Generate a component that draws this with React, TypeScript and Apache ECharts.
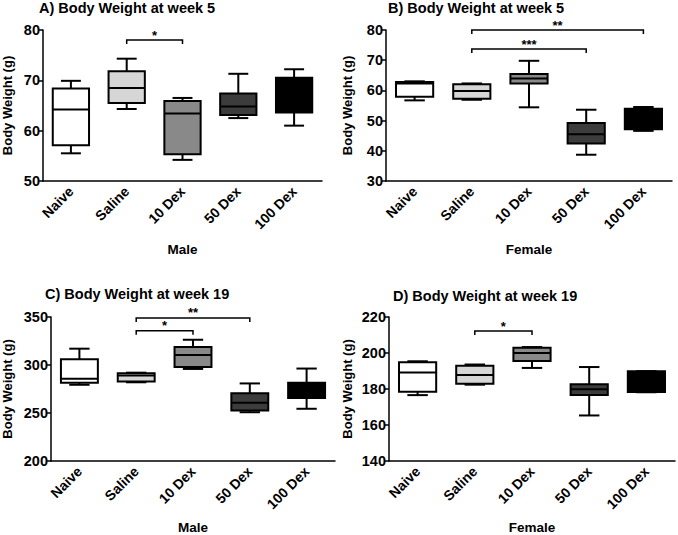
import React, { useEffect, useRef } from "react";
import * as echarts from "echarts";

const categories = ["Naive", "Saline", "10 Dex", "50 Dex", "100 Dex"];
const boxFills = ["#ffffff", "#d6d6d6", "#898989", "#3c3c3c", "#000000"];

// [min, Q1, median, Q3, max]
const maleWeek5 = [
  [55.5, 57.1, 64.2, 68.4, 69.9],
  [64.3, 65.5, 68.5, 71.8, 74.3],
  [54.2, 55.3, 63.4, 65.9, 66.5],
  [62.5, 63.1, 64.8, 67.4, 71.3],
  [61.0, 63.6, 66.5, 70.5, 72.2],
];
const femaleWeek5 = [
  [56.7, 57.9, 62.3, 62.8, 63.0],
  [56.9, 57.2, 59.8, 62.0, 62.3],
  [54.4, 62.3, 63.9, 65.4, 69.8],
  [38.7, 42.4, 45.5, 49.2, 53.6],
  [46.6, 47.1, 50.0, 53.9, 54.5],
];
const maleWeek19 = [
  [279.4, 281.4, 285.7, 306.1, 317.0],
  [282.0, 282.7, 289.0, 291.3, 292.0],
  [295.9, 297.9, 310.4, 318.7, 326.3],
  [250.8, 252.7, 260.7, 270.5, 280.8],
  [254.4, 265.6, 272.0, 281.4, 296.3],
];
const femaleWeek19 = [
  [176.6, 178.5, 189.1, 194.9, 195.4],
  [182.4, 182.9, 187.8, 192.9, 193.6],
  [191.7, 195.6, 200.0, 202.9, 203.3],
  [165.3, 176.6, 179.9, 182.7, 192.2],
  [178.2, 178.3, 184.0, 189.8, 189.9],
];

// significance brackets: [fromIndex, toIndex, yValue]
const bracketsA = [[1, 2, 78]];
const bracketLabelsA = ["*"];
const bracketsB = [
  [1, 3, 73.7],
  [1, 4, 80],
];
const bracketLabelsB = ["***", "**"];
const bracketsC = [
  [1, 2, 335.8],
  [1, 3, 349],
];
const bracketLabelsC = ["*", "**"];
const bracketsD = [[1, 2, 212.2]];
const bracketLabelsD = ["*"];

const titles = [
  "A) Body Weight at week 5",
  "B) Body Weight at week 5",
  "C) Body Weight at week 19",
  "D) Body Weight at week 19",
];
const xNames = ["Male", "Female", "Male", "Female"];
const yRanges = [
  [50, 80, 10],
  [30, 80, 10],
  [200, 350, 50],
  [140, 220, 20],
];

const FONT = "'Liberation Sans', Arial, Helvetica, sans-serif";

function boxRenderer(params: any, api: any) {
  const idx = api.value(0);
  const vals = [1, 2, 3, 4, 5].map((i) => api.value(i));
  const xc = api.coord([idx, vals[0]])[0];
  const ys = vals.map((v: number) => api.coord([idx, v])[1]);
  const w = api.size([1, 0])[0] * 0.65;
  const cap = w * 0.55;
  const st = { stroke: "#000", lineWidth: 2, fill: null };
  return {
    type: "group",
    children: [
      { type: "line", shape: { x1: xc, y1: ys[0], x2: xc, y2: ys[1] }, style: st },
      { type: "line", shape: { x1: xc, y1: ys[3], x2: xc, y2: ys[4] }, style: st },
      { type: "line", shape: { x1: xc - cap / 2, y1: ys[0], x2: xc + cap / 2, y2: ys[0] }, style: st },
      { type: "line", shape: { x1: xc - cap / 2, y1: ys[4], x2: xc + cap / 2, y2: ys[4] }, style: st },
      {
        type: "rect",
        shape: { x: xc - w / 2, y: ys[3], width: w, height: ys[1] - ys[3] },
        style: { fill: boxFills[idx], stroke: "#000", lineWidth: 2 },
      },
      { type: "line", shape: { x1: xc - w / 2, y1: ys[2], x2: xc + w / 2, y2: ys[2] }, style: st },
    ],
  };
}

function bracketRenderer(labels: string[]) {
  return (params: any, api: any) => {
    const a = api.value(0);
    const b = api.value(1);
    const v = api.value(2);
    const p1 = api.coord([a, v]);
    const p2 = api.coord([b, v]);
    const drop = 4;
    return {
      type: "group",
      children: [
        {
          type: "polyline",
          shape: {
            points: [
              [p1[0], p1[1] + drop],
              [p1[0], p1[1]],
              [p2[0], p2[1]],
              [p2[0], p2[1] + drop],
            ],
          },
          style: { stroke: "#000", lineWidth: 1.5, fill: null },
        },
        {
          type: "text",
          x: (p1[0] + p2[0]) / 2,
          y: p1[1] - 5,
          style: {
            text: labels[params.dataIndex],
            fill: "#000",
            font: `bold 13px ${FONT}`,
            align: "center",
            verticalAlign: "middle",
          },
        },
      ],
    };
  };
}

export default function App() {
  const ref = useRef<HTMLDivElement>(null);
  useEffect(() => {
    document.body.style.margin = "0";
    if (!ref.current) return;
    const chart = echarts.init(ref.current, null, { renderer: "svg" });

    const grids = [
      { left: 36, top: 30, width: 286, height: 151 },
      { left: 386, top: 30, width: 286, height: 151 },
      { left: 44, top: 317, width: 291, height: 152 },
      { left: 389, top: 317, width: 286, height: 152 },
    ];
    const titlePos = [
      { left: 39, top: 0 },
      { left: 388, top: 0 },
      { left: 45, top: 286 },
      { left: 393, top: 288 },
    ];
    const yGaps = [29, 32, 37, 35];
    const boxData = [maleWeek5, femaleWeek5, maleWeek19, femaleWeek19];
    const brackets = [bracketsA, bracketsB, bracketsC, bracketsD];
    const bracketLabels = [bracketLabelsA, bracketLabelsB, bracketLabelsC, bracketLabelsD];

    const series: any[] = [];
    boxData.forEach((d, i) => {
      series.push({
        type: "custom",
        xAxisIndex: i,
        yAxisIndex: i,
        renderItem: boxRenderer,
        encode: { x: 0, y: [1, 2, 3, 4, 5] },
        data: d.map((row, k) => [k, ...row]),
        z: 2,
      });
      series.push({
        type: "custom",
        xAxisIndex: i,
        yAxisIndex: i,
        renderItem: bracketRenderer(bracketLabels[i]),
        encode: { x: [0, 1], y: 2 },
        data: brackets[i],
        clip: false,
        z: 3,
      });
    });

    chart.setOption({
      animation: false,
      backgroundColor: "#ffffff",
      title: titles.map((t, i) => ({
        text: t,
        left: titlePos[i].left,
        top: titlePos[i].top,
        padding: 0,
        textStyle: { fontFamily: FONT, fontWeight: "bold", fontSize: 14.5, color: "#000" },
      })),
      grid: grids,
      xAxis: grids.map((g, i) => ({
        type: "category",
        gridIndex: i,
        data: categories,
        name: xNames[i],
        nameLocation: "middle",
        nameGap: i < 2 ? 61 : 59,
        nameTextStyle: { fontFamily: FONT, fontWeight: "bold", fontSize: 13.5, color: "#000" },
        axisLine: { lineStyle: { color: "#000", width: 1.5 } },
        axisTick: { show: false },
        axisLabel: {
          rotate: 45,
          margin: 8,
          fontFamily: FONT,
          fontWeight: "bold",
          fontSize: 14,
          color: "#000",
          interval: 0,
        },
        splitLine: { show: false },
      })),
      yAxis: yRanges.map((r, i) => ({
        type: "value",
        gridIndex: i,
        min: r[0],
        max: r[1],
        interval: r[2],
        name: "Body Weight (g)",
        nameLocation: "middle",
        nameGap: yGaps[i],
        nameTextStyle: { fontFamily: FONT, fontWeight: "bold", fontSize: 13, color: "#000" },
        axisLine: { show: true, lineStyle: { color: "#000", width: 1.5 } },
        axisTick: { show: true, length: 4, lineStyle: { color: "#000", width: 1.5 } },
        axisLabel: { margin: 3, fontFamily: FONT, fontWeight: "bold", fontSize: 14.5, color: "#000" },
        splitLine: { show: false },
      })),
      series,
    });
    return () => chart.dispose();
  }, []);
  return <div ref={ref} style={{ width: 678, height: 535 }} />;
}
